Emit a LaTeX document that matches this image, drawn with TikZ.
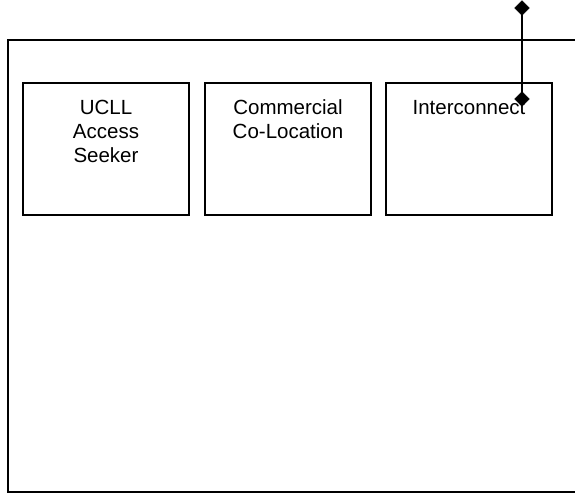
\documentclass[tikz,border=0pt]{standalone}
\usepackage{fontspec}
\setmainfont{Liberation Sans}
\usetikzlibrary{shapes.geometric}
\begin{document}
\begin{tikzpicture}[x=1pt,y=1pt,
  frame/.style={draw=black,line width=1.3pt},
  boxnode/.style={draw=black,line width=1.3pt,rectangle,minimum width=166pt,minimum height=132pt,inner sep=0pt},
  lbl/.style={anchor=north,inner sep=0pt,align=center,font=\fontsize{20.5pt}{24pt}\selectfont},
  dia/.style={diamond,fill=black,draw=black,minimum width=15pt,minimum height=15pt,inner sep=0pt},
  conn/.style={draw=black,line width=1.5pt}]
\useasboundingbox (0,0) rectangle (575,494);
% outer frame (open at the right edge, cut off by the picture)
\draw[frame] (590,454) -- (8,454) -- (8,2) -- (590,2);
% boxes
\node[boxnode] (b1) at (106,345) {};
\node[boxnode] (b2) at (288,345) {};
\node[boxnode] (b3) at (469,345) {};
\node[lbl] (t1) at ([yshift=-17.5pt]b1.north) {UCLL\\Access\\Seeker};
\node[lbl] (t2) at ([yshift=-17.5pt]b2.north) {Commercial\\Co-Location};
\node[lbl] (t3) at ([yshift=-17.5pt]b3.north) {Interconnect};
% connector with diamond ends
\node[dia] (d1) at (522,486) {};
\node[dia] (d2) at (522,395) {};
\draw[conn] (d1.center) -- (d2.center);
\end{tikzpicture}
\end{document}
